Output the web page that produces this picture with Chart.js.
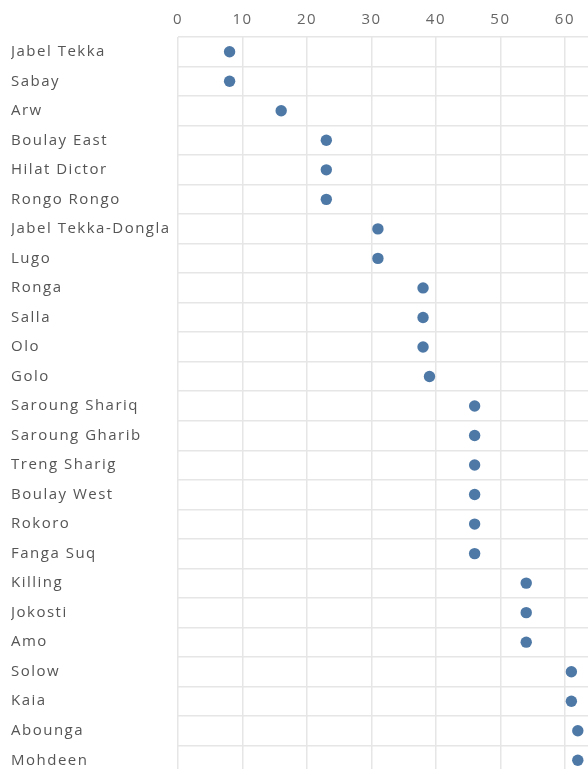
<!DOCTYPE html>
<html><head><meta charset="utf-8">
<script src="https://cdn.jsdelivr.net/npm/chart.js@4/dist/chart.umd.min.js"></script>
<style>
html,body{margin:0;padding:0;overflow:hidden;background:#fff;}
#wrap{position:relative;width:592px;height:784px;}
</style></head>
<body><div id="wrap"><canvas id="c"></canvas></div>
<script>
const categories = ["Jabel Tekka","Sabay","Arw","Boulay East","Hilat Dictor","Rongo Rongo","Jabel Tekka-Dongla","Lugo","Ronga","Salla","Olo","Golo","Saroung Shariq","Saroung Gharib","Treng Sharig","Boulay West","Rokoro","Fanga Suq","Killing","Jokosti","Amo","Solow","Kaia","Abounga","Mohdeen"];
const values = [8,8,16,23,23,23,31,31,38,38,38,39,46,46,46,46,46,46,54,54,54,61,61,62,62];
const xTicks = [0,10,20,30,40,50,60];

const spacing = {id:'spacing', beforeLayout(c){c.ctx.letterSpacing='1.5px';}, beforeDraw(c){c.ctx.letterSpacing='1.5px';}};
new Chart(document.getElementById('c'), {
  type:'line',
  data:{labels:categories, datasets:[{data:values, showLine:false, pointRadius:5.7, pointHoverRadius:5.7,
    backgroundColor:'#4e79a7', borderColor:'#4e79a7', pointBorderWidth:0}]},
  plugins:[spacing],
  options:{
    indexAxis:'y', responsive:true, maintainAspectRatio:false, animation:false,
    layout:{autoPadding:false, padding:{left:11,top:0,right:0,bottom:0}},
    plugins:{legend:{display:false}, tooltip:{enabled:false}},
    scales:{
      x:{position:'top', min:0, max:64.2,
        afterBuildTicks(s){s.ticks = xTicks.map(v=>({value:v}));},
        grid:{color:(c)=> (c.tick && xTicks.includes(c.tick.value)) ? '#e6e6e6' : 'rgba(0,0,0,0)', lineWidth:1.5, drawTicks:false},
        border:{display:false},
        ticks:{color:'#666', font:{family:'Open Sans', size:15}, padding:8},
        afterFit(s){s.height=37;}
      },
      y:{type:'category', offset:true,
        grid:{color:'#e6e6e6', lineWidth:1.5, drawTicks:false, offset:true},
        border:{display:false},
        ticks:{color:'#555', font:{family:'Open Sans', size:15}, crossAlign:'far', padding:0, autoSkip:false},
        afterFit(s){s.width=167;}
      }
    }
  }
});
</script></body></html>
